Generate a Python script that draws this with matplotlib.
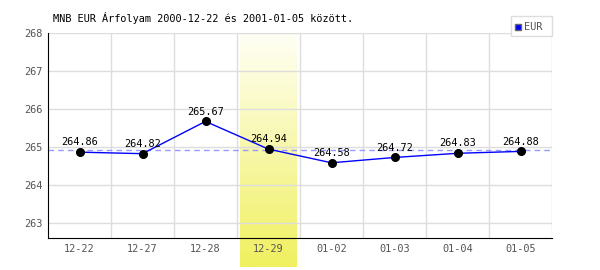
import numpy as np
import matplotlib.pyplot as plt
from matplotlib.patches import Rectangle

# data
dates = ['12-22', '12-27', '12-28', '12-29', '01-02', '01-03', '01-04', '01-05']
rates = [264.86, 264.82, 265.67, 264.94, 264.58, 264.72, 264.83, 264.88]
yticks = [263, 264, 265, 266, 267, 268]
highlight = '12-29'

mono = 'DejaVu Sans Mono'
grey = '#555555'

fig = plt.figure(figsize=(6, 2.7), dpi=100)
ax = fig.add_axes([0.08, 0.1174, 0.84, 0.7604])

x = np.arange(len(dates))
ax.set_xlim(-0.5, len(dates) - 0.5)
ax.set_ylim(262.59, 268)

# highlighted day: gradient band running below the axis
hi = dates.index(highlight)
grad = np.linspace(0, 1, 100).reshape(-1, 1, 1)
top = np.array([255, 255, 245]) / 255
bot = np.array([240, 240, 96]) / 255
img = top + (bot - top) * grad
ax.imshow(img, aspect='auto', extent=(hi - 0.45, hi + 0.45, 261.84, 268),
          origin='upper', zorder=0.5, clip_on=False)

# grid
for b in np.arange(0.5, len(dates), 1.0):
    ax.axvline(b, color='#dddddd', lw=1, zorder=1)
for t in yticks:
    ax.axhline(t, color='#dddddd', lw=1, zorder=1)

# average line
ax.axhline(np.mean(rates), color='#9999ff', lw=1, ls=(0, (4, 3)), zorder=2)

ax.plot(x, rates, color='#0000ff', lw=1, zorder=3)
ax.plot(x, rates, 'o', color='black', ms=5.5, zorder=4)
for xi, r in zip(x, rates):
    ax.annotate(f'{r:.2f}', (xi, r), xytext=(0, 3.5), textcoords='offset points',
                ha='center', va='bottom', fontsize=7.4, family=mono, color='black',
                zorder=5)

for s in ['top', 'right']:
    ax.spines[s].set_visible(False)
ax.spines['left'].set_color('black')
ax.spines['bottom'].set_color('black')
ax.set_xticks(x)
ax.set_xticklabels(dates)
ax.set_yticks(yticks)
ax.tick_params(length=0, labelsize=7.4, colors=grey, pad=4)
for lab in ax.get_xticklabels() + ax.get_yticklabels():
    lab.set_family(mono)

fig.text(53 / 600, 1 - 18 / 270, 'MNB EUR Árfolyam 2000-12-22 és 2001-01-05 között.',
         family=mono, fontsize=7.4, va='center', ha='left', color='black')

# legend box
fig.patches.append(Rectangle((511 / 600, 1 - 36 / 270), 41 / 600, 20 / 270,
                             transform=fig.transFigure, facecolor='white',
                             edgecolor='#dddddd', lw=1, zorder=6))
fig.patches.append(Rectangle((515 / 600, 1 - 30 / 270), 6 / 600, 6 / 270,
                             transform=fig.transFigure, facecolor='#0000ff',
                             edgecolor='#666666', lw=1, zorder=7))
fig.text(524 / 600, 1 - 26.5 / 270, 'EUR', family=mono, fontsize=7.4,
         va='center', ha='left', color=grey, zorder=8)

fig.savefig('out.png', dpi=100)
